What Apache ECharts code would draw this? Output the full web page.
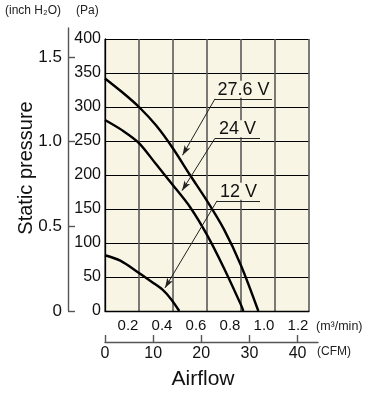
<!DOCTYPE html>
<html>
<head>
<meta charset="utf-8">
<script src="https://cdn.jsdelivr.net/npm/echarts@6/dist/echarts.min.js"></script>
<style>
  html, body { margin: 0; padding: 0; background: #fff; }
  #chart { width: 371px; height: 394px; }
</style>
</head>
<body>
<div id="chart"></div>
<script>
// airflow (m3/min) vs static pressure (Pa)
const flow276 = [0, 0.1, 0.2, 0.3, 0.4, 0.5, 0.6, 0.7, 0.8, 0.902];
const pres276 = [342, 322, 300, 273, 239, 200, 162, 120, 67, 0];
const flow24 = [0, 0.1, 0.2, 0.3, 0.4, 0.5, 0.6, 0.7, 0.8, 0.814];
const pres24 = [281, 266, 247, 216, 185, 153, 112, 63, 9, 0];
const flow12 = [0, 0.09, 0.2, 0.28, 0.34, 0.39, 0.437];
const pres12 = [82, 74, 56, 42, 31, 17, 0];

const cfmTicks = [0, 10, 20, 30, 40];
const inchTicks = [0, 0.5, 1.0, 1.5];

const sans = "'Liberation Sans', Arial, sans-serif";
const cream = '#f9f5e4';

function pairs(xs, ys) {
  return xs.map((x, i) => [x, ys[i]]);
}

// underline with the voltage text + leader arrow to the curve
function callout(name, lineStart, lineEnd, tip) {
  return {
    silent: true,
    symbol: 'none',
    lineStyle: { color: '#222', width: 1, type: 'solid' },
    emphasis: { disabled: true },
    data: [
      [
        {
          coord: lineStart, symbol: 'none',
          label: {
            show: true, formatter: name, position: 'insideMiddleTop', distance: 1,
            color: '#111', fontFamily: sans, fontSize: 18,
            backgroundColor: cream, padding: [0, 1, -1, 1]
          }
        },
        { coord: lineEnd, symbol: 'none' }
      ],
      [
        { coord: lineStart, symbol: 'none', label: { show: false } },
        { coord: tip, symbol: 'arrow', symbolSize: [5, 10], label: { show: false } }
      ]
    ]
  };
}

function curve(name, xs, ys, mark) {
  return {
    name: name,
    type: 'line',
    xAxisIndex: 0,
    yAxisIndex: 0,
    data: pairs(xs, ys),
    smooth: 0.3,
    showSymbol: false,
    lineStyle: { color: '#000', width: 2.4 },
    silent: true,
    markLine: mark
  };
}

const chart = echarts.init(document.getElementById('chart'));

const option = {
  animation: false,
  grid: [
    { left: 105, top: 39, width: 204, height: 272, show: true, backgroundColor: cream, borderWidth: 0 },
    { left: 105, top: 300, width: 213, height: 42 },
    { left: 68, top: 28, width: 1, height: 283 }
  ],
  xAxis: [
    {
      gridIndex: 0, type: 'value', min: 0, max: 1.2, interval: 0.2,
      axisLine: { show: true, onZero: false, lineStyle: { color: '#000', width: 1.3 } },
      axisTick: { show: false },
      splitLine: { show: true, lineStyle: { color: '#5a5a5a', width: 1.6 } },
      axisLabel: {
        showMinLabel: false, margin: 7, color: '#111', fontFamily: sans, fontSize: 15,
        padding: [0, 22, 0, 0],
        formatter: v => v.toFixed(1)
      }
    },
    {
      gridIndex: 1, type: 'value', min: 0, max: 44.25, interval: 10,
      axisLine: { show: true, onZero: false, lineStyle: { color: '#555', width: 1.4 } },
      axisTick: { show: true, inside: true, length: 7, customValues: cfmTicks, lineStyle: { color: '#555', width: 1.4 } },
      splitLine: { show: false },
      axisLabel: {
        customValues: cfmTicks, margin: 4,
        color: '#111', fontFamily: sans, fontSize: 16
      }
    },
    { gridIndex: 2, type: 'value', show: false }
  ],
  yAxis: [
    {
      gridIndex: 0, type: 'value', min: 0, max: 400, interval: 50,
      axisLine: { show: true, lineStyle: { color: '#000', width: 1.3 } },
      axisTick: { show: false },
      splitLine: { show: true, lineStyle: { color: '#000', width: 1.2 } },
      axisLabel: { margin: 4, color: '#111', fontFamily: sans, fontSize: 16 }
    },
    { gridIndex: 1, type: 'value', show: false },
    {
      gridIndex: 2, type: 'value', min: 0, max: 1.671, interval: 0.5,
      axisLine: { show: true, lineStyle: { color: '#555', width: 1.4 } },
      axisTick: { show: true, inside: true, length: 7, customValues: inchTicks, lineStyle: { color: '#555', width: 1.4 } },
      splitLine: { show: false },
      axisLabel: {
        customValues: inchTicks, margin: 6,
        color: '#111', fontFamily: sans, fontSize: 17,
        formatter: v => v === 0 ? '0' : v.toFixed(1)
      }
    }
  ],
  graphic: [
    { type: 'text', left: 5, top: 5, style: { text: '(inch H\u2082O)', fontFamily: sans, fontSize: 12, fill: '#222' } },
    { type: 'text', left: 76, top: 5, style: { text: '(Pa)', fontFamily: sans, fontSize: 12, fill: '#222' } },
    { type: 'text', left: 316, top: 320, style: { text: '(m\u00b3/min)', fontFamily: sans, fontSize: 12.5, fill: '#222' } },
    { type: 'text', left: 317, top: 346, style: { text: '(CFM)', fontFamily: sans, fontSize: 12, fill: '#222' } },
    {
      type: 'text', x: 26, y: 168, rotation: Math.PI / 2,
      style: { text: 'Static pressure', fontFamily: sans, fontSize: 20, fill: '#111', align: 'center', verticalAlign: 'middle' }
    },
    {
      type: 'text', x: 203, y: 379,
      style: { text: 'Airflow', fontFamily: sans, fontSize: 21, fill: '#111', align: 'center', verticalAlign: 'middle' }
    }
  ],
  series: [
    curve('27.6 V', flow276, pres276, callout('27.6 V', [0.647, 312], [0.982, 312], [0.456, 229])),
    curve('24 V', flow24, pres24, callout('24 V', [0.647, 254], [0.912, 254], [0.453, 177])),
    curve('12 V', flow12, pres12, callout('12 V', [0.659, 162], [0.912, 162], [0.353, 34]))
  ]
};

chart.setOption(option);
</script>
</body>
</html>
